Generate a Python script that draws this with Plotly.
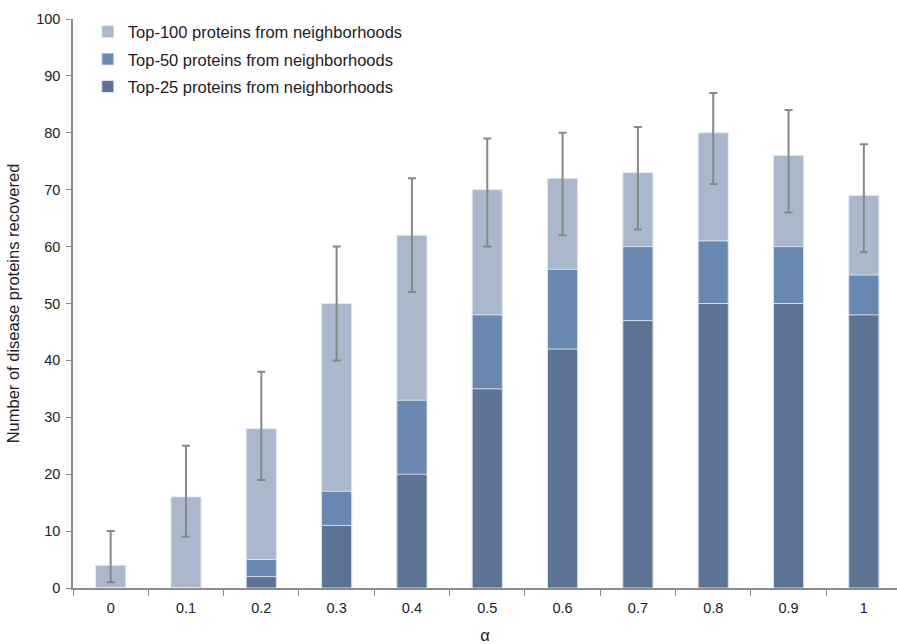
import plotly.graph_objects as go

alpha = ["0", "0.1", "0.2", "0.3", "0.4", "0.5", "0.6", "0.7", "0.8", "0.9", "1"]
top100 = [4, 16, 28, 50, 62, 70, 72, 73, 80, 76, 69]
top50 = [0, 0, 5, 17, 33, 48, 56, 60, 61, 60, 55]
top25 = [0, 0, 2, 11, 20, 35, 42, 47, 50, 50, 48]
err_high = [10, 25, 38, 60, 72, 79, 80, 81, 87, 84, 78]
err_low = [1, 9, 19, 40, 52, 60, 62, 63, 71, 66, 59]

err_plus = [h - v for h, v in zip(err_high, top100)]
err_minus = [v - l for v, l in zip(top100, err_low)]

c100 = "#abb8cb"
c50 = "#6888b2"
c25 = "#5c7393"
edge = dict(color="rgba(225,232,244,0.9)", width=1)

fig = go.Figure()
fig.add_trace(go.Bar(
    x=alpha, y=top100, name="Top-100 proteins from neighborhoods",
    marker=dict(color=c100, line=edge), width=0.4, legendgroup="a",
    error_y=dict(type="data", symmetric=False, array=err_plus, arrayminus=err_minus,
                 color="#888888", thickness=2, width=4),
))
fig.add_trace(go.Bar(
    x=alpha, y=top50, name="Top-50 proteins from neighborhoods",
    marker=dict(color=c50, line=edge), width=0.4, legendgroup="b",
))
fig.add_trace(go.Bar(
    x=alpha, y=top25, name="Top-25 proteins from neighborhoods",
    marker=dict(color=c25, line=edge), width=0.4, legendgroup="c",
))

fig.update_layout(
    width=897, height=644,
    margin=dict(l=73, r=0, t=19, b=56),
    barmode="overlay",
    plot_bgcolor="white", paper_bgcolor="white",
    font=dict(family="Liberation Sans, Arial, sans-serif", size=14.5, color="#222222"),
    showlegend=True,
    legend=dict(x=0.018, y=1.008, xanchor="left", yanchor="top",
                bgcolor="rgba(0,0,0,0)", font=dict(size=16.5, color="#222222"),
                tracegroupgap=3, itemwidth=30),
    xaxis=dict(
        type="category", range=[-0.5, 10.44], automargin=False,
        showline=True, linecolor="#8c8c8c", linewidth=1.5,
        ticks="outside", tickson="boundaries", ticklen=6, tickcolor="#8c8c8c",
        ticklabelstandoff=6,
        showgrid=False, zeroline=False,
        title=dict(text="α", standoff=17, font=dict(size=16.5)),
    ),
    yaxis=dict(
        range=[0, 100], dtick=10, automargin=False,
        showline=True, linecolor="#8c8c8c", linewidth=1.5,
        ticks="outside", ticklen=5, tickcolor="#8c8c8c",
        ticklabelstandoff=3,
        showgrid=False, zeroline=False,
        title=dict(text="Number of disease proteins recovered", standoff=12, font=dict(size=16.5)),
    ),
)

fig.write_html("out.html", config={"displayModeBar": False},
               post_script="document.body.style.margin='0';")
